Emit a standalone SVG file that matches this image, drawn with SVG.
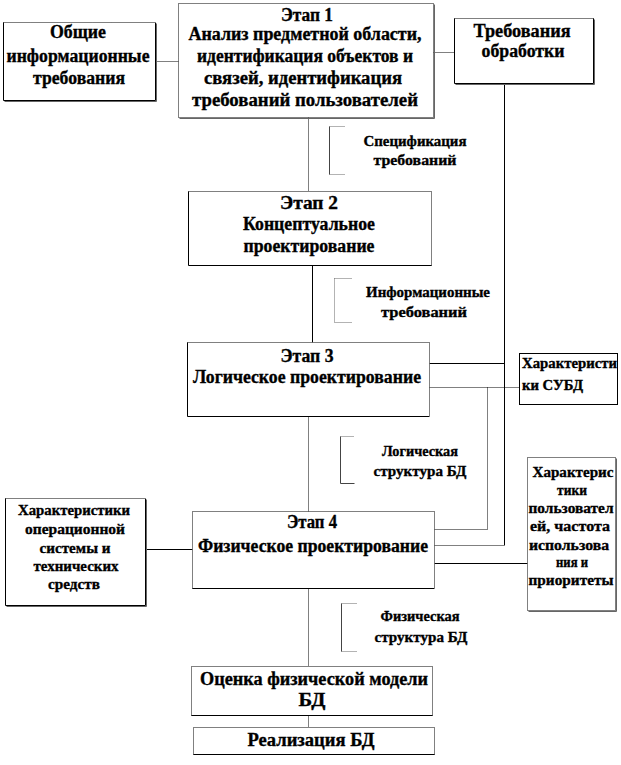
<svg xmlns="http://www.w3.org/2000/svg" width="621" height="765" viewBox="0 0 621 765" font-family="'Liberation Serif', 'DejaVu Serif', serif">
<style>
.bg{fill:#fff;stroke:none}
.sol{fill:none;stroke:#000;stroke-width:1}
.dot{fill:none;stroke:#000;stroke-width:1;stroke-dasharray:1 1}
.shd{fill:none;stroke:#666;stroke-width:1}
.br{fill:none;stroke:#444;stroke-width:1}
.brd{fill:none;stroke:#666;stroke-width:1;stroke-dasharray:1 1}
text{font-family:'Liberation Serif','DejaVu Serif',serif;font-weight:bold;fill:#000;stroke:#000;stroke-width:0.35}
.t{font-size:18px;text-anchor:middle}
.s{font-size:15px;text-anchor:middle}
.sl{font-size:15px;text-anchor:start}
</style>
<rect width="621" height="765" fill="#fff"/>
<g id="connectors">
<path class="dot" d="M155.5 61.5H178.5"/>
<path class="dot" d="M433.5 52.5H454.5"/>
<path class="sol" d="M504.5 83.5V545.5"/>
<path class="dot" d="M308.5 117.5V191.5"/>
<path class="sol" d="M312.5 265.5V342.5"/>
<path class="sol" d="M429.5 363.5H504.5"/>
<path class="dot" d="M429.5 387.5H519.5"/>
<path class="dot" d="M487.5 387.5V529.5H434.5"/>
<path class="dot" d="M308.5 416.5V511.5"/>
<path class="dot" d="M434.5 545.5H504.5"/>
<path class="sol" d="M434.5 563.5H527.5"/>
<path class="sol" d="M145.5 549.5H192.5"/>
<path class="dot" d="M308.5 588.5V666.5"/>
<path class="dot" d="M308.5 715.5V727.5"/>
</g>
<g id="bracket1"><path class="br" d="M329.5 126.5V174.5"/><path class="brd" d="M329.5 126.5H344.5M329.5 174.5H344.5"/>
<text class="s" x="415" y="146" textLength="103" lengthAdjust="spacingAndGlyphs">Спецификация</text>
<text class="s" x="415" y="165" textLength="83" lengthAdjust="spacingAndGlyphs">требований</text></g>
<g id="bracket2"><path class="brd" d="M334.5 278.5V322.5M334.5 278.5H352.5M334.5 322.5H352.5"/>
<text class="s" x="428" y="297" textLength="124" lengthAdjust="spacingAndGlyphs">Информационные</text>
<text class="s" x="424" y="317" textLength="86" lengthAdjust="spacingAndGlyphs">требований</text></g>
<g id="bracket3"><path class="br" d="M340.5 436.5V483.5M340.5 483.5H354.5"/><path class="brd" d="M340.5 436.5H354.5"/>
<text class="s" x="420" y="456" textLength="76" lengthAdjust="spacingAndGlyphs">Логическая</text>
<text class="s" x="420" y="476" textLength="93" lengthAdjust="spacingAndGlyphs">структура  БД</text></g>
<g id="bracket4"><path class="br" d="M341.5 603.5V651.5"/><path class="brd" d="M341.5 603.5H356.5M341.5 651.5H356.5"/>
<text class="s" x="420" y="621" textLength="79" lengthAdjust="spacingAndGlyphs">Физическая</text>
<text class="s" x="421" y="642" textLength="93" lengthAdjust="spacingAndGlyphs">структура  БД</text></g>

<g id="general">
<rect class="bg" x="3.5" y="22.5" width="152" height="78"/>
<path class="dot" d="M3.5 22.5H155.5"/><path class="sol" d="M3.5 22.5V100.5H155.5V22.5"/><path class="shd" d="M156.5 23.5V101.5H4.5"/>
<text class="t" x="78" y="38" textLength="56" lengthAdjust="spacingAndGlyphs">Общие</text>
<text class="t" x="78" y="62" textLength="143" lengthAdjust="spacingAndGlyphs">информационные</text>
<text class="t" x="79" y="84" textLength="92" lengthAdjust="spacingAndGlyphs">требования</text>
</g>
<g id="stage1">
<rect class="bg" x="178.5" y="3.5" width="255" height="114"/>
<rect class="dot" x="178.5" y="3.5" width="255" height="114"/><path class="shd" d="M434.5 4.5V118.5H179.5"/>
<text class="t" x="307" y="21" textLength="52" lengthAdjust="spacingAndGlyphs">Этап 1</text>
<text class="t" x="305" y="40" textLength="233" lengthAdjust="spacingAndGlyphs">Анализ предметной области,</text>
<text class="t" x="305" y="62" textLength="216" lengthAdjust="spacingAndGlyphs">идентификация объектов и</text>
<text class="t" x="303" y="84" textLength="198" lengthAdjust="spacingAndGlyphs">связей, идентификация</text>
<text class="t" x="305" y="106" textLength="226" lengthAdjust="spacingAndGlyphs">требований пользователей</text>
</g>
<g id="processing">
<rect class="bg" x="454.5" y="18.5" width="139" height="65"/>
<path class="dot" d="M454.5 18.5H593.5"/><path class="sol" d="M454.5 18.5V83.5H593.5V18.5"/><path class="shd" d="M594.5 19.5V84.5H455.5"/>
<text class="t" x="522" y="37" textLength="97" lengthAdjust="spacingAndGlyphs">Требования</text>
<text class="t" x="523" y="57" textLength="83" lengthAdjust="spacingAndGlyphs">обработки</text>
</g>
<g id="stage2">
<rect class="bg" x="188.5" y="191.5" width="243" height="74"/>
<path class="dot" d="M188.5 191.5H431.5V265.5"/><path class="sol" d="M188.5 191.5V265.5H431.5"/>
<text class="t" x="309" y="209" textLength="58" lengthAdjust="spacingAndGlyphs">Этап 2</text>
<text class="t" x="309" y="230" textLength="132" lengthAdjust="spacingAndGlyphs">Концептуальное</text>
<text class="t" x="309" y="252" textLength="131" lengthAdjust="spacingAndGlyphs">проектирование</text>
</g>
<g id="stage3">
<rect class="bg" x="187.5" y="342.5" width="242" height="74"/>
<path class="dot" d="M187.5 342.5H429.5V416.5"/><path class="sol" d="M187.5 342.5V416.5H429.5"/>
<text class="t" x="307" y="362" textLength="53" lengthAdjust="spacingAndGlyphs">Этап 3</text>
<text class="t" x="307" y="383" textLength="228" lengthAdjust="spacingAndGlyphs">Логическое проектирование</text>
</g>
<g id="dbms">
<rect class="bg" x="519.5" y="353.5" width="98" height="51"/>
<rect class="sol" x="519.5" y="353.5" width="98" height="51"/>
<text class="sl" x="522" y="368" textLength="95" lengthAdjust="spacingAndGlyphs">Характеристи</text>
<text class="sl" x="522" y="390" textLength="61" lengthAdjust="spacingAndGlyphs">ки СУБД</text>
</g>
<g id="users">
<rect class="bg" x="527.5" y="457.5" width="88" height="153"/>
<rect class="dot" x="527.5" y="457.5" width="88" height="153"/><path class="shd" d="M616.5 458.5V611.5H528.5"/>
<text class="s" x="573" y="477" textLength="81" lengthAdjust="spacingAndGlyphs">Характерис</text>
<text class="s" x="572" y="495" textLength="30" lengthAdjust="spacingAndGlyphs">тики</text>
<text class="s" x="571" y="513" textLength="85" lengthAdjust="spacingAndGlyphs">пользовател</text>
<text class="s" x="570" y="531" textLength="80" lengthAdjust="spacingAndGlyphs">ей, частота</text>
<text class="s" x="569" y="550" textLength="80" lengthAdjust="spacingAndGlyphs">использова</text>
<text class="s" x="572" y="567" textLength="32" lengthAdjust="spacingAndGlyphs">ния и</text>
<text class="s" x="571" y="585" textLength="85" lengthAdjust="spacingAndGlyphs">приоритеты</text>
</g>
<g id="ostech">
<rect class="bg" x="5.5" y="498.5" width="140" height="107"/>
<path class="dot" d="M5.5 498.5H145.5"/><path class="sol" d="M5.5 498.5V605.5H145.5V498.5"/><path class="shd" d="M146.5 499.5V606.5H6.5"/>
<text class="s" x="74" y="515" textLength="112" lengthAdjust="spacingAndGlyphs">Характеристики</text>
<text class="s" x="75" y="534" textLength="100" lengthAdjust="spacingAndGlyphs">операционной</text>
<text class="s" x="75" y="553" textLength="71" lengthAdjust="spacingAndGlyphs">системы и</text>
<text class="s" x="76" y="571" textLength="85" lengthAdjust="spacingAndGlyphs">технических</text>
<text class="s" x="74" y="589" textLength="52" lengthAdjust="spacingAndGlyphs">средств</text>
</g>
<g id="stage4">
<rect class="bg" x="192.5" y="511.5" width="242" height="77"/>
<path class="dot" d="M192.5 588.5V511.5H434.5V588.5"/><path class="sol" d="M192.5 588.5H434.5"/>
<text class="t" x="312" y="528" textLength="50" lengthAdjust="spacingAndGlyphs">Этап 4</text>
<text class="t" x="313" y="552" textLength="230" lengthAdjust="spacingAndGlyphs">Физическое проектирование</text>
</g>
<g id="evaluation">
<rect class="bg" x="191.5" y="666.5" width="241" height="49"/>
<path class="dot" d="M191.5 715.5V666.5H432.5V715.5"/><path class="sol" d="M191.5 715.5H432.5"/>
<text class="t" x="314" y="685" textLength="228" lengthAdjust="spacingAndGlyphs">Оценка физической модели</text>
<text class="t" x="312" y="706" textLength="27" lengthAdjust="spacingAndGlyphs">БД</text>
</g>
<g id="implementation">
<rect class="bg" x="193.5" y="727.5" width="241" height="27"/>
<path class="dot" d="M193.5 754.5V727.5H434.5V754.5"/><path class="sol" d="M193.5 754.5H434.5"/>
<text class="t" x="311" y="746" textLength="127" lengthAdjust="spacingAndGlyphs">Реализация БД</text>
</g>
</svg>
